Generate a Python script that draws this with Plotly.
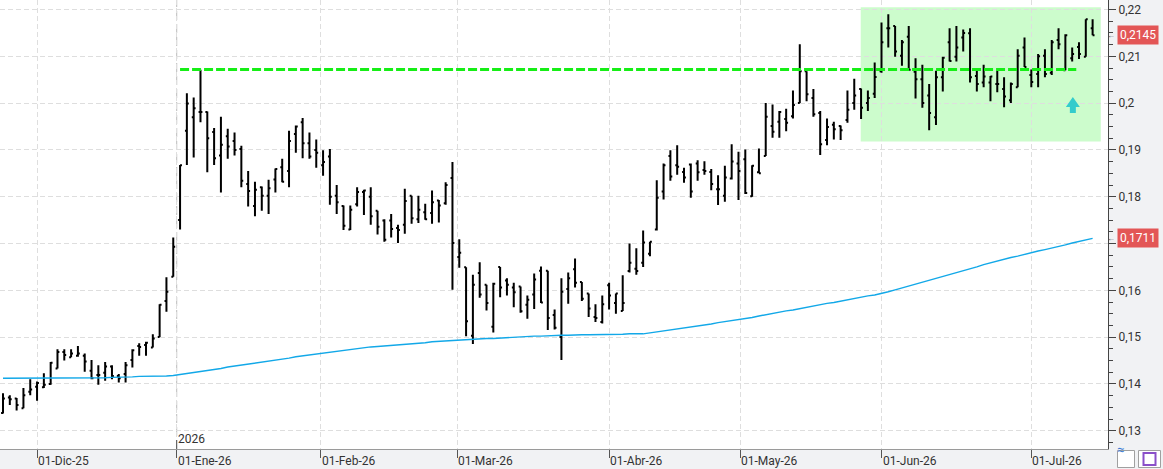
import pandas as pd
import plotly.graph_objects as go

# ---------------- data ----------------
holidays = ["2025-12-25", "2025-12-26", "2026-01-01", "2026-04-03", "2026-04-06", "2026-05-01"]
dates = [d for d in pd.bdate_range("2025-11-24", "2026-07-14") if d.strftime("%Y-%m-%d") not in holidays]

open_ = [0.1338, 0.1371, 0.1369, 0.1348, 0.1383, 0.1394, 0.1393, 0.1400, 0.1433, 0.1468,
         0.1457, 0.1460, 0.1460, 0.1428, 0.1419, 0.1424, 0.1437, 0.1417, 0.1421, 0.1451,
         0.1481, 0.1483, 0.1478, 0.1500, 0.1577, 0.1629, 0.1750, 0.1941, 0.1970, 0.1981,
         0.1981, 0.1938, 0.1888, 0.1929, 0.1919, 0.1902, 0.1827, 0.1780, 0.1820, 0.1802,
         0.1837, 0.1863, 0.1855, 0.1934, 0.1959, 0.1914, 0.1900, 0.1867, 0.1886, 0.1802,
         0.1780, 0.1730, 0.1784, 0.1810, 0.1800, 0.1770, 0.1749, 0.1749, 0.1733, 0.1740,
         0.1802, 0.1752, 0.1767, 0.1765, 0.1792, 0.1786, 0.1840, 0.1671, 0.1649, 0.1503,
         0.1637, 0.1612, 0.1522, 0.1650, 0.1621, 0.1606, 0.1608, 0.1569, 0.1591, 0.1642,
         0.1642, 0.1547, 0.1500, 0.1603, 0.1645, 0.1618, 0.1593, 0.1543, 0.1532, 0.1611,
         0.1573, 0.1556, 0.1641, 0.1646, 0.1659, 0.1678, 0.1730, 0.1811, 0.1887, 0.1867,
         0.1853, 0.1869, 0.1871, 0.1857, 0.1853, 0.1816, 0.1802, 0.1839, 0.1871, 0.1880,
         0.1801, 0.1852, 0.1887, 0.1951, 0.1960, 0.1966, 0.1972, 0.2000, 0.2068, 0.2011,
         0.1979, 0.1921, 0.1954, 0.1951, 0.1964, 0.2000, 0.2030, 0.2000, 0.2020, 0.2068,
         0.2160, 0.2165, 0.2101, 0.2142, 0.2067, 0.2051, 0.2016, 0.1970, 0.2055, 0.2130,
         0.2099, 0.2140, 0.2149, 0.2058, 0.2044, 0.2044, 0.2041, 0.2030, 0.2006, 0.2034,
         0.2119, 0.2060, 0.2062, 0.2101, 0.2065, 0.2135, 0.2070, 0.2096, 0.2120, 0.2099,
         0.2160]
high = [0.1380, 0.1376, 0.1370, 0.1391, 0.1410, 0.1405, 0.1423, 0.1447, 0.1474, 0.1474,
        0.1474, 0.1481, 0.1465, 0.1451, 0.1440, 0.1447, 0.1440, 0.1421, 0.1447, 0.1474,
        0.1487, 0.1490, 0.1506, 0.1570, 0.1628, 0.1713, 0.1868, 0.2021, 0.2012, 0.2071,
        0.1982, 0.1947, 0.1971, 0.1945, 0.1937, 0.1909, 0.1855, 0.1832, 0.1822, 0.1836,
        0.1860, 0.1881, 0.1941, 0.1952, 0.1968, 0.1937, 0.1922, 0.1899, 0.1902, 0.1825,
        0.1781, 0.1781, 0.1820, 0.1815, 0.1820, 0.1770, 0.1752, 0.1763, 0.1740, 0.1817,
        0.1802, 0.1802, 0.1785, 0.1813, 0.1793, 0.1831, 0.1874, 0.1709, 0.1649, 0.1633,
        0.1660, 0.1612, 0.1616, 0.1650, 0.1626, 0.1616, 0.1608, 0.1589, 0.1636, 0.1651,
        0.1642, 0.1559, 0.1626, 0.1638, 0.1668, 0.1618, 0.1593, 0.1570, 0.1589, 0.1616,
        0.1593, 0.1632, 0.1700, 0.1690, 0.1728, 0.1704, 0.1835, 0.1871, 0.1899, 0.1910,
        0.1862, 0.1871, 0.1878, 0.1876, 0.1859, 0.1846, 0.1866, 0.1912, 0.1896, 0.1901,
        0.1867, 0.1903, 0.2000, 0.1997, 0.1983, 0.1988, 0.2027, 0.2126, 0.2068, 0.2030,
        0.1983, 0.1967, 0.1960, 0.1952, 0.2027, 0.2052, 0.2031, 0.2027, 0.2087, 0.2172,
        0.2190, 0.2165, 0.2135, 0.2165, 0.2096, 0.2082, 0.2041, 0.2069, 0.2099, 0.2160,
        0.2165, 0.2157, 0.2160, 0.2069, 0.2082, 0.2058, 0.2069, 0.2055, 0.2044, 0.2115,
        0.2140, 0.2072, 0.2105, 0.2115, 0.2135, 0.2160, 0.2147, 0.2119, 0.2130, 0.2179,
        0.2179]
low = [0.1337, 0.1355, 0.1343, 0.1348, 0.1376, 0.1364, 0.1391, 0.1398, 0.1433, 0.1450,
       0.1457, 0.1458, 0.1426, 0.1410, 0.1398, 0.1407, 0.1410, 0.1403, 0.1403, 0.1435,
       0.1460, 0.1460, 0.1478, 0.1500, 0.1554, 0.1629, 0.1730, 0.1868, 0.1884, 0.1959,
       0.1852, 0.1868, 0.1809, 0.1881, 0.1888, 0.1820, 0.1779, 0.1758, 0.1770, 0.1763,
       0.1809, 0.1831, 0.1820, 0.1894, 0.1882, 0.1881, 0.1862, 0.1845, 0.1783, 0.1763,
       0.1729, 0.1729, 0.1779, 0.1761, 0.1740, 0.1719, 0.1704, 0.1713, 0.1701, 0.1721,
       0.1742, 0.1744, 0.1751, 0.1742, 0.1745, 0.1783, 0.1601, 0.1648, 0.1502, 0.1485,
       0.1584, 0.1557, 0.1510, 0.1585, 0.1589, 0.1564, 0.1552, 0.1539, 0.1560, 0.1573,
       0.1515, 0.1516, 0.1451, 0.1571, 0.1606, 0.1577, 0.1543, 0.1532, 0.1529, 0.1559,
       0.1550, 0.1556, 0.1638, 0.1633, 0.1650, 0.1673, 0.1728, 0.1794, 0.1834, 0.1847,
       0.1830, 0.1798, 0.1834, 0.1847, 0.1814, 0.1782, 0.1789, 0.1837, 0.1793, 0.1806,
       0.1800, 0.1850, 0.1887, 0.1926, 0.1926, 0.1940, 0.1967, 0.2000, 0.2004, 0.1971,
       0.1889, 0.1910, 0.1922, 0.1921, 0.1958, 0.1986, 0.1966, 0.1983, 0.2011, 0.2065,
       0.2119, 0.2099, 0.2080, 0.2070, 0.2010, 0.1990, 0.1942, 0.1953, 0.2025, 0.2089,
       0.2089, 0.2110, 0.2044, 0.2025, 0.2034, 0.2004, 0.2023, 0.1991, 0.2000, 0.2034,
       0.2077, 0.2034, 0.2034, 0.2055, 0.2060, 0.2115, 0.2070, 0.2089, 0.2094, 0.2099,
       0.2145]
close = [0.1369, 0.1367, 0.1355, 0.1376, 0.1388, 0.1402, 0.1398, 0.1445, 0.1468, 0.1462,
         0.1465, 0.1465, 0.1448, 0.1412, 0.1419, 0.1437, 0.1417, 0.1412, 0.1440, 0.1472,
         0.1479, 0.1488, 0.1497, 0.1569, 0.1597, 0.1693, 0.1867, 0.1999, 0.1989, 0.1981,
         0.1925, 0.1882, 0.1911, 0.1907, 0.1900, 0.1834, 0.1812, 0.1815, 0.1802, 0.1818,
         0.1859, 0.1832, 0.1919, 0.1950, 0.1914, 0.1886, 0.1894, 0.1874, 0.1800, 0.1788,
         0.1738, 0.1772, 0.1810, 0.1813, 0.1758, 0.1736, 0.1708, 0.1731, 0.1729, 0.1791,
         0.1754, 0.1772, 0.1752, 0.1788, 0.1781, 0.1825, 0.1701, 0.1680, 0.1534, 0.1612,
         0.1591, 0.1573, 0.1614, 0.1606, 0.1612, 0.1596, 0.1555, 0.1580, 0.1623, 0.1574,
         0.1541, 0.1520, 0.1597, 0.1626, 0.1616, 0.1582, 0.1561, 0.1541, 0.1570, 0.1589,
         0.1593, 0.1573, 0.1659, 0.1641, 0.1702, 0.1704, 0.1798, 0.1867, 0.1843, 0.1864,
         0.1841, 0.1811, 0.1852, 0.1855, 0.1827, 0.1816, 0.1841, 0.1875, 0.1855, 0.1808,
         0.1866, 0.1850, 0.1971, 0.1939, 0.1981, 0.1958, 0.1996, 0.2068, 0.2019, 0.1976,
         0.1912, 0.1949, 0.1944, 0.1942, 0.1986, 0.2016, 0.1990, 0.2011, 0.2056, 0.2130,
         0.2160, 0.2110, 0.2130, 0.2071, 0.2051, 0.2000, 0.1979, 0.2055, 0.2097, 0.2090,
         0.2119, 0.2150, 0.2055, 0.2041, 0.2057, 0.2057, 0.2041, 0.2014, 0.2041, 0.2101,
         0.2077, 0.2045, 0.2100, 0.2062, 0.2130, 0.2126, 0.2145, 0.2105, 0.2105, 0.2179,
         0.2145]
moving_avg = [0.1412, 0.1412, 0.1412, 0.1412, 0.1412, 0.1412, 0.1412, 0.1412, 0.1412, 0.1412,
              0.1412, 0.1412, 0.1412, 0.1412, 0.1413, 0.1413, 0.1414, 0.1414, 0.1415, 0.1415,
              0.1416, 0.1416, 0.1417, 0.1417, 0.1417, 0.1418, 0.1420, 0.1422, 0.1424, 0.1427,
              0.1429, 0.1431, 0.1433, 0.1436, 0.1438, 0.1440, 0.1442, 0.1444, 0.1447, 0.1449,
              0.1451, 0.1453, 0.1455, 0.1458, 0.1460, 0.1462, 0.1464, 0.1466, 0.1468, 0.1470,
              0.1472, 0.1474, 0.1476, 0.1478, 0.1479, 0.1480, 0.1481, 0.1482, 0.1484, 0.1485,
              0.1486, 0.1487, 0.1488, 0.1490, 0.1491, 0.1492, 0.1493, 0.1494, 0.1495, 0.1495,
              0.1496, 0.1497, 0.1497, 0.1498, 0.1499, 0.1500, 0.1500, 0.1501, 0.1502, 0.1502,
              0.1503, 0.1504, 0.1504, 0.1504, 0.1505, 0.1505, 0.1505, 0.1505, 0.1506, 0.1506,
              0.1506, 0.1506, 0.1507, 0.1507, 0.1507, 0.1509, 0.1511, 0.1514, 0.1516, 0.1518,
              0.1520, 0.1522, 0.1524, 0.1526, 0.1528, 0.1531, 0.1533, 0.1535, 0.1537, 0.1540,
              0.1542, 0.1545, 0.1548, 0.1550, 0.1553, 0.1556, 0.1558, 0.1561, 0.1564, 0.1566,
              0.1569, 0.1572, 0.1574, 0.1577, 0.1580, 0.1582, 0.1585, 0.1588, 0.1590, 0.1593,
              0.1597, 0.1601, 0.1605, 0.1609, 0.1613, 0.1618, 0.1622, 0.1626, 0.1630, 0.1634,
              0.1638, 0.1642, 0.1646, 0.1650, 0.1655, 0.1659, 0.1663, 0.1666, 0.1670, 0.1673,
              0.1677, 0.1680, 0.1684, 0.1687, 0.1690, 0.1694, 0.1697, 0.1701, 0.1704, 0.1708,
              0.1711]

month_starts = ["2025-12-01", "2026-01-01", "2026-02-01", "2026-03-01",
                "2026-04-01", "2026-05-01", "2026-06-01", "2026-07-01"]
month_labels = ["01-Dic-25", "01-Ene-26", "01-Feb-26", "01-Mar-26",
                "01-Abr-26", "01-May-26", "01-Jun-26", "01-Jul-26"]
price_ticks = [0.13, 0.14, 0.15, 0.16, 0.17, 0.18, 0.19, 0.20, 0.21, 0.22]
# the 0,17 label is hidden behind the red 0,1711 tag in the original
price_tick_labels = ["0,13", "0,14", "0,15", "0,16", "", "0,18", "0,19", "0,2", "0,21", "0,22"]
year_label = "2026"
resistance_level = 0.2072
zone_low, zone_high = 0.1918, 0.2205
last_price_label = "0,2145"
last_ma_label = "0,1711"

# ---------------- helpers ----------------
x_idx = list(range(len(dates)))


def date_pos(ds):
    """fractional bar position of a calendar date on the trading-day axis"""
    t = pd.Timestamp(ds)
    for i in range(len(dates) - 1):
        a, b = dates[i], dates[i + 1]
        if a == t:
            return float(i)
        if a < t < b:
            return i + (t - a).days / (b - a).days
    return float(len(dates) - 1)


tick_pos = [date_pos(d) for d in month_starts]
year_pos = date_pos("2026-01-01")

FONT = "Roboto, Arial, sans-serif"
TXT = "#333333"

fig = go.Figure()

fig.add_trace(go.Scatter(
    x=x_idx, y=moving_avg, mode="lines",
    line=dict(color="#12a8e8", width=1.4), hoverinfo="skip", showlegend=False))

fig.add_trace(go.Ohlc(
    x=x_idx, open=open_, high=high, low=low, close=close,
    increasing=dict(line=dict(color="black", width=2)),
    decreasing=dict(line=dict(color="black", width=2)),
    tickwidth=0.28, showlegend=False))

# shapes
shapes = [
    dict(type="rect", xref="x", yref="y", x0=125.95, x1=161.2, y0=zone_low, y1=zone_high,
         fillcolor="#ccfccc", line=dict(width=0), layer="below"),
    dict(type="line", xref="x", yref="paper", x0=year_pos, x1=year_pos, y0=0, y1=1,
         line=dict(color="#c6c6c6", width=1.2, dash="9px,4px"), layer="below"),
    dict(type="line", xref="x", yref="y", x0=26.0, x1=157.6, y0=resistance_level, y1=resistance_level,
         line=dict(color="#16ee16", width=3, dash="9px,3px"), layer="above"),
    dict(type="line", xref="x", yref="paper", x0=year_pos, x1=year_pos, y0=0, y1=0.02,
         line=dict(color="#555555", width=1), layer="above"),
    dict(type="path", xref="x", yref="y",
         path="M 156.07,0.19917 L 157.1,0.2013 L 158.13,0.19917 L 157.54,0.19917 "
              "L 157.54,0.19788 L 156.66,0.19788 L 156.66,0.19917 Z",
         fillcolor="#33cccc", line=dict(width=0), layer="above"),
    # bottom-right small buttons
    dict(type="rect", xref="paper", yref="paper", x0=1117.5 / 1108, x1=1134.5 / 1108,
         y0=-18.5 / 449, y1=-1.5 / 449, fillcolor="white", line=dict(color="#a0a0a0", width=1)),
    dict(type="rect", xref="paper", yref="paper", x0=1138.5 / 1108, x1=1160.5 / 1108,
         y0=-18.5 / 449, y1=-1.5 / 449, fillcolor="white", line=dict(color="#a0a0a0", width=1)),
    dict(type="rect", xref="paper", yref="paper", x0=1143.5 / 1108, x1=1155.5 / 1108,
         y0=-16 / 449, y1=-4 / 449, fillcolor="white", line=dict(color="#8a4fc9", width=2)),
]

annotations = []
for pos, lab in zip(tick_pos, month_labels):
    annotations.append(dict(x=pos, y=0, xref="x", yref="paper", text=lab, showarrow=False,
                            xanchor="left", yanchor="top", xshift=-1, yshift=-3,
                            font=dict(family=FONT, size=12, color=TXT)))
annotations.append(dict(x=year_pos, y=0, xref="x", yref="paper", text=year_label, showarrow=False,
                        xanchor="left", yanchor="bottom", xshift=-1, yshift=1,
                        font=dict(family=FONT, size=12, color=TXT)))
for val, lab in [(close[-1], last_price_label), (moving_avg[-1], last_ma_label)]:
    annotations.append(dict(x=1, y=val, xref="paper", yref="y", text=lab, showarrow=False,
                            xanchor="left", yanchor="middle", xshift=9,
                            bgcolor="#e35656", borderpad=2,
                            font=dict(family=FONT, size=12, color="white")))
    annotations.append(dict(x=1, y=val, xref="paper", yref="y", text="←", showarrow=False,
                            xanchor="right", yanchor="middle", xshift=8, borderpad=0,
                            font=dict(family=FONT, size=8, color="#555555")))
annotations.append(dict(x=1126 / 1108, y=-10 / 449, xref="paper", yref="paper", text="≈",
                        showarrow=False, font=dict(family=FONT, size=13, color="#3a7bd5")))

fig.update_layout(
    width=1163, height=469,
    margin=dict(l=0, r=55, t=0, b=20, autoexpand=False),
    paper_bgcolor="#f1f2f4", plot_bgcolor="white",
    separators=",.",
    font=dict(family=FONT, size=12, color=TXT),
    shapes=shapes, annotations=annotations,
    showlegend=False,
    xaxis=dict(range=[-0.44, 162.26], tickvals=tick_pos, ticktext=[""] * len(tick_pos),
               showticklabels=False, ticks="outside", ticklen=8, tickcolor="#555555",
               showgrid=True, gridcolor="#dedede", griddash="5px,3px", gridwidth=1,
               showline=True, linecolor="#9a9a9a", linewidth=1, zeroline=False,
               rangeslider=dict(visible=False), fixedrange=True),
    yaxis=dict(side="right", range=[0.12609, 0.22203],
               tickmode="array", tickvals=price_ticks, ticktext=price_tick_labels,
               ticks="outside", ticklen=7, tickcolor="#444444",
               showline=True, linecolor="#444444", linewidth=1,
               showgrid=True, gridcolor="#dedede", griddash="5px,3px", gridwidth=1,
               zeroline=False, tickfont=dict(family=FONT, size=12, color=TXT),
               minor=dict(dtick=0.0025, tick0=0.13, ticks="outside", ticklen=4,
                          tickcolor="#444444", showgrid=False),
               fixedrange=True),
)

fig.write_html("out.html", config={"displayModeBar": False})
